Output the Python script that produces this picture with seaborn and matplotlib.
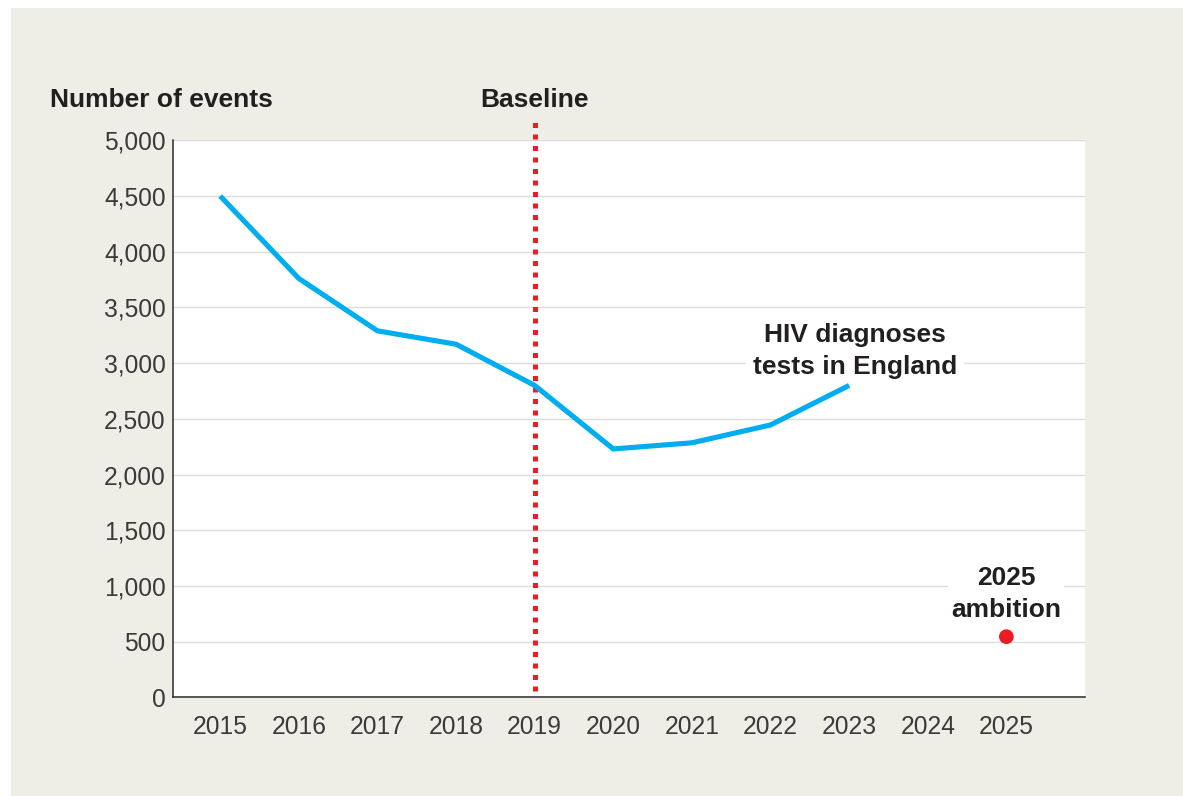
import matplotlib
matplotlib.use("Agg")
import matplotlib.pyplot as plt
import matplotlib.transforms as mtransforms
from matplotlib.patches import Rectangle
import seaborn as sns
import pandas as pd

# ---- data ----
years = [2015, 2016, 2017, 2018, 2019, 2020, 2021, 2022, 2023]
hiv_diagnoses = [4500, 3760, 3290, 3170, 2800, 2230, 2285, 2445, 2800]
ambition_year = [2025]
ambition_value = [545]
baseline_year = 2019
x_ticks = list(range(2015, 2026))
y_ticks = list(range(0, 5001, 500))
y_ticklabels = [f"{v:,}" for v in y_ticks]

# ---- style ----
sns.set_theme(style="white")
plt.rcParams["font.family"] = ["Liberation Sans", "DejaVu Sans"]

BEIGE = "#eeede6"
BLUE = "#00aeef"
RED = "#ed1c24"
TEXT = "#231f20"
TICK = "#3a3a3a"
W, H = 1183, 796

fig = plt.figure(figsize=(W / 100, H / 100), dpi=100, facecolor="white")
fig.patches.append(Rectangle((11 / W, 0), 1 - 11 / W, 1 - 8 / H,
                             transform=fig.transFigure, facecolor=BEIGE,
                             edgecolor="none", zorder=-10))
ax = fig.add_axes([173 / W, 1 - 697.4 / H, 912 / W, 557.1 / H])
ax.set_facecolor("white")

df = pd.DataFrame({"year": years, "value": hiv_diagnoses})
sns.lineplot(data=df, x="year", y="value", ax=ax, color=BLUE, linewidth=3.7, zorder=4)
for ln in ax.lines:
    ln.set_solid_joinstyle("miter")
    ln.set_solid_capstyle("butt")

amb = pd.DataFrame({"year": ambition_year, "value": ambition_value})
sns.scatterplot(data=amb, x="year", y="value", ax=ax, color=RED, s=112,
                edgecolor="none", zorder=5, clip_on=False)

ax.axvline(baseline_year, ymin=0.0115, ymax=1.0346, color=RED, linewidth=3.6,
           linestyle=(0, (1, 1.3)), clip_on=False, zorder=3)

ax.set_xlim(2014.40, 2026.0)
ax.set_ylim(0, 5000)
ax.set_xticks(x_ticks)
ax.set_yticks(y_ticks)
ax.set_yticklabels(y_ticklabels)
ax.set_xlabel("")
ax.set_ylabel("")
ax.tick_params(length=0, labelsize=17.7, colors=TICK)
ax.tick_params(axis="x", pad=13)
ax.tick_params(axis="y", pad=5.3)

ax.set_axisbelow(True)
ax.yaxis.grid(True, color="#dcdcdc", linewidth=1.0)
ax.xaxis.grid(False)
for s in ["top", "right"]:
    ax.spines[s].set_visible(False)
for s in ["left", "bottom"]:
    ax.spines[s].set_color("#2b2b2b")
    ax.spines[s].set_linewidth(1.1)

trans = mtransforms.blended_transform_factory(ax.transData, ax.transAxes)
ax.text(-0.1349, 1.0592, "Number of events", transform=ax.transAxes,
        ha="left", va="baseline", fontsize=19, fontweight="bold", color=TEXT)
ax.text(baseline_year, 1.0592, "Baseline", transform=trans,
        ha="center", va="baseline", fontsize=19, fontweight="bold", color=TEXT)

ax.text(2023.08, 2902, "HIV diagnoses\ntests in England", ha="center", va="baseline",
        fontsize=19, fontweight="bold", color=TEXT, linespacing=1.44, zorder=2,
        bbox=dict(facecolor="white", edgecolor="none", pad=5))
ax.text(ambition_year[0], 722, "2025\nambition", ha="center", va="baseline",
        fontsize=19, fontweight="bold", color=TEXT, linespacing=1.4, zorder=2,
        bbox=dict(facecolor="white", edgecolor="none", pad=2))

fig.savefig("out.png", dpi=100, facecolor=fig.get_facecolor())
